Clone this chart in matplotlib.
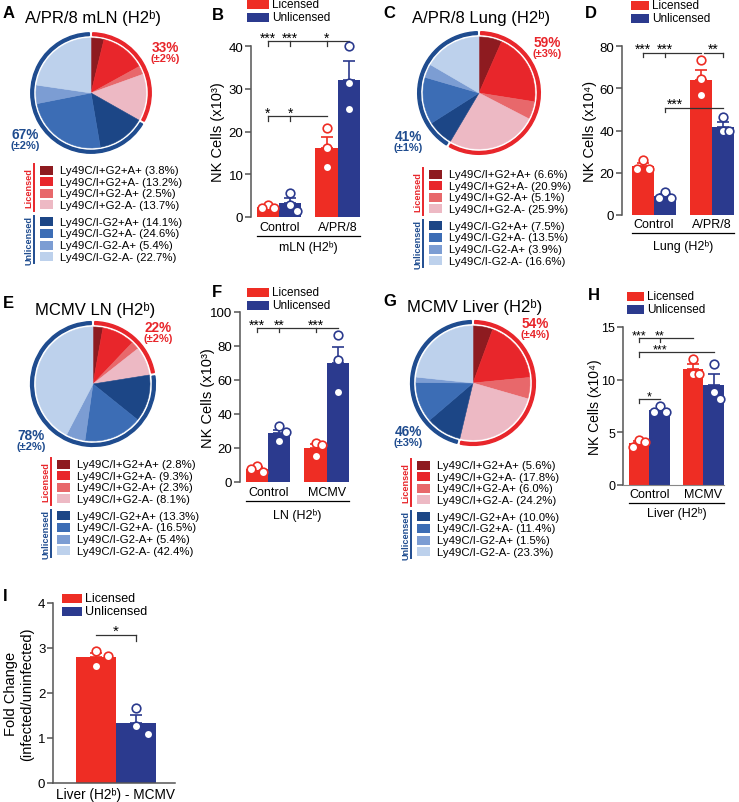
import numpy as np
import matplotlib
matplotlib.use("Agg")
import matplotlib.pyplot as plt
from matplotlib.patches import Wedge, Rectangle

plt.rcParams['font.family'] = ['Liberation Sans', 'DejaVu Sans']

W, H = 739, 803

# ---- pie data: % of NK cells in each subset ----
lic_names = ["Ly49C/I+G2+A+", "Ly49C/I+G2+A-", "Ly49C/I+G2-A+", "Ly49C/I+G2-A-"]
unlic_names = ["Ly49C/I-G2+A+", "Ly49C/I-G2+A-", "Ly49C/I-G2-A+", "Ly49C/I-G2-A-"]

mln_lic = [3.8, 13.2, 2.5, 13.7]
mln_unlic = [14.1, 24.6, 5.4, 22.7]
lung_lic = [6.6, 20.9, 5.1, 25.9]
lung_unlic = [7.5, 13.5, 3.9, 16.6]
ln_lic = [2.8, 9.3, 2.3, 8.1]
ln_unlic = [13.3, 16.5, 5.4, 42.4]
liver_lic = [5.6, 17.8, 6.0, 24.2]
liver_unlic = [10.0, 11.4, 1.5, 23.3]

pie_titles = ["A/PR/8 mLN (H2ᵇ)", "A/PR/8 Lung (H2ᵇ)", "MCMV LN (H2ᵇ)", "MCMV Liver (H2ᵇ)"]
pie_lic_tot = [("33%", "(±2%)"), ("59%", "(±3%)"), ("22%", "(±2%)"), ("54%", "(±4%)")]
pie_unlic_tot = [("67%", "(±2%)"), ("41%", "(±1%)"), ("78%", "(±2%)"), ("46%", "(±3%)")]

# ---- bar data: NK cell numbers ----
flu_groups = ["Control", "A/PR/8"]
mcmv_groups = ["Control", "MCMV"]

mln_lic_pts = [[2.8, 2.0, 2.1], [20.8, 16.1, 11.6]]
mln_unlic_pts = [[5.7, 2.7, 1.3], [40.1, 31.4, 25.2]]
mln_lic_mean, mln_lic_sem = [2.3, 16.1], [0.4, 2.7]
mln_unlic_mean, mln_unlic_sem = [3.2, 32.1], [1.3, 4.3]

lung_lic_pts = [[26.0, 21.8, 21.8], [73.2, 64.2, 56.8]]
lung_unlic_pts = [[11.0, 8.2, 8.2], [46.5, 40.0, 40.0]]
lung_lic_mean, lung_lic_sem = [23.2, 64.0], [1.5, 4.5]
lung_unlic_mean, lung_unlic_sem = [9.0, 41.5], [0.8, 2.3]

ln_lic_pts = [[9.4, 6.1, 7.5], [22.8, 21.6, 15.3]]
ln_unlic_pts = [[33.0, 29.5, 24.2], [86.2, 72.0, 52.8]]
ln_lic_mean, ln_lic_sem = [7.7, 19.9], [1.0, 2.2]
ln_unlic_mean, ln_unlic_sem = [28.9, 70.0], [1.6, 9.5]

liver_lic_pts = [[4.25, 4.1, 3.6], [12.0, 10.5, 10.5]]
liver_unlic_pts = [[7.5, 6.95, 6.95], [11.5, 8.8, 8.2]]
liver_lic_mean, liver_lic_sem = [3.95, 11.0], [0.2, 0.5]
liver_unlic_mean, liver_unlic_sem = [7.1, 9.5], [0.15, 1.0]

fold_lic_pts = [2.94, 2.82, 2.61]
fold_unlic_pts = [1.67, 1.26, 1.1]
fold_mean, fold_sem = [2.79, 1.34], [0.1, 0.17]

LIC_COLS = ['#8E1B20', '#E8262B', '#E8686B', '#EDB9C4']
UNLIC_COLS = ['#1C4686', '#3C6DB5', '#7C9DD3', '#BDD1EC']
RING_RED, RING_BLUE = '#E8262B', '#1F4C8F'
BAR_RED, BAR_BLUE = '#EE2D24', '#2B3A8E'
SPINE = '#555555'

fig = plt.figure(figsize=(W / 100, H / 100), dpi=100)
ov = fig.add_axes([0, 0, 1, 1])
ov.set_xlim(0, W)
ov.set_ylim(H, 0)
ov.axis('off')


def px_axes(left, top, right, bottom):
    return fig.add_axes([left / W, 1 - bottom / H, (right - left) / W, (bottom - top) / H])


def draw_pie(cx, cy, R, lic, unlic, title, title_y, lic_tot, lic_xy, unlic_tot, unlic_xy, leg_x, leg_y):
    s = 1.2 * R
    ax = px_axes(cx - s, cy - s, cx + s, cy + s)
    vals = lic + unlic
    wedges, _ = ax.pie(vals, colors=LIC_COLS + UNLIC_COLS, startangle=90, counterclock=False)
    for w in wedges:
        w.set_edgecolor(w.get_facecolor())
        w.set_linewidth(0.4)
    split = 90 - 360 * sum(lic) / sum(vals)
    gap = 1.6
    ax.add_patch(Wedge((0, 0), 1.095, split + gap, 90 - gap, width=0.05, color=RING_RED))
    ax.add_patch(Wedge((0, 0), 1.095, 90 + gap - 360, split - gap, width=0.05, color=RING_BLUE))
    ax.set_xlim(-1.2, 1.2)
    ax.set_ylim(-1.2, 1.2)
    ax.axis('off')

    ov.text(cx + 2, title_y, title, ha='center', va='center', fontsize=12)
    ov.text(lic_xy[0], lic_xy[1], lic_tot[0], ha='center', va='center', fontsize=9.8,
            fontweight='bold', color=RING_RED)
    ov.text(lic_xy[0], lic_xy[1] + 11, lic_tot[1], ha='center', va='center', fontsize=8,
            fontweight='bold', color=RING_RED)
    ov.text(unlic_xy[0], unlic_xy[1], unlic_tot[0], ha='center', va='center', fontsize=9.8,
            fontweight='bold', color=RING_BLUE)
    ov.text(unlic_xy[0], unlic_xy[1] + 11, unlic_tot[1], ha='center', va='center', fontsize=8,
            fontweight='bold', color=RING_BLUE)

    # legend with side labels
    step, gap_px = 11.6, 17
    for block, (names, v, cols, lab, lc) in enumerate(
            [(lic_names, lic, LIC_COLS, 'Licensed', RING_RED),
             (unlic_names, unlic, UNLIC_COLS, 'Unlicensed', RING_BLUE)]):
        y0 = leg_y + block * (3 * step + gap_px)
        for i, (n, p, c) in enumerate(zip(names, v, cols)):
            y = y0 + i * step
            ov.add_patch(Rectangle((leg_x, y - 4.5), 13, 9, color=c, lw=0))
            ov.text(leg_x + 20, y, f"{n} ({p:.1f}%)", ha='left', va='center', fontsize=8.2)
        ov.plot([leg_x - 6, leg_x - 6], [y0 - 6, y0 + 3 * step + 6], color=lc, lw=1.4)
        ov.text(leg_x - 11, y0 + 1.5 * step, lab, rotation=90, ha='center', va='center',
                fontsize=6.6, fontweight='bold', color=lc)


def swarm(vals, thr, dx):
    placed = []
    offs = []
    for v in vals:
        for o in [0, dx, -dx, 2 * dx, -2 * dx]:
            if all(abs(v - pv) > thr or o != po for pv, po in placed):
                break
        placed.append((v, o))
        offs.append(o)
    return offs


def draw_bars(ax, series, ymax, width=0.38):
    for off, means, sems, pts, col in series:
        xs = np.arange(len(means)) + off
        ax.bar(xs, means, width=width, color=col, zorder=2, linewidth=0)
        ax.errorbar(xs, means, yerr=[np.zeros(len(means)), sems], fmt='none', ecolor=col,
                    elinewidth=1.2, capsize=4.5, capthick=1.2, zorder=2)
        for x, p in zip(xs, pts):
            offs = swarm(p, 0.055 * ymax, 0.11 * width / 0.38)
            ax.plot(x + np.array(offs), p, 'o', ms=6.2, mfc='white', mec=col, mew=1.2,
                    zorder=3, clip_on=False)


def bracket(ax, y, x0, x1, ticks, stars, tl, fs=10):
    ax.plot([x0, x1], [y, y], color='#333333', lw=0.9, clip_on=False)
    for t in ticks:
        ax.plot([t, t], [y, y - tl], color='#333333', lw=0.9, clip_on=False)
    for x, s in stars:
        ax.annotate(s, (x, y), xytext=(0, -2.5), textcoords='offset points', ha='center',
                    va='bottom', fontsize=fs, annotation_clip=False)


def style_axes(ax, ymax, ticks, h_px, fs=9.5):
    ax.set_ylim(0, ymax)
    ax.set_yticks(ticks)
    for sp in ['top', 'right', 'bottom']:
        ax.spines[sp].set_visible(False)
    ax.spines['left'].set_color(SPINE)
    ax.spines['left'].set_linewidth(1.1)
    ax.tick_params(axis='y', colors=SPINE, labelcolor='black', labelsize=fs, length=4, width=1.1, pad=1.5)
    ax.tick_params(axis='x', length=0, labelbottom=False)
    ax.patch.set_visible(False)


def group_labels(ax, groups, xlabel, h_px, lab_px, line_px, xl_px, x0=-0.38, x1=1.38, fs=9):
    tr = ax.get_xaxis_transform()
    for g, name in enumerate(groups):
        ax.text(g, -lab_px / h_px, name, transform=tr, ha='center', va='center', fontsize=fs)
    ax.plot([x0, x1], [-line_px / h_px] * 2, transform=tr, color='black', lw=0.9, clip_on=False)
    ax.text((x0 + x1) / 2, -xl_px / h_px, xlabel, transform=tr, ha='center', va='center', fontsize=fs)


def bar_legend(x, y, sw, fs=8.5):
    for i, (lab, col) in enumerate([('Licensed', BAR_RED), ('Unlicensed', BAR_BLUE)]):
        yy = y + i * 13
        ov.add_patch(Rectangle((x, yy - 4.5), sw, 9, color=col, lw=0))
        ov.text(x + sw + 3, yy, lab, ha='left', va='center', fontsize=fs)


# ---------- pies ----------
draw_pie(91, 94, 55, mln_lic, mln_unlic, pie_titles[0], 18, pie_lic_tot[0], (165, 48),
         pie_unlic_tot[0], (25, 135), 40, 171)
draw_pie(479, 94, 56, lung_lic, lung_unlic, pie_titles[1], 18, pie_lic_tot[1], (547, 43),
         pie_unlic_tot[1], (408, 137), 429, 175)
draw_pie(93, 385, 57, ln_lic, ln_unlic, pie_titles[2], 310, pie_lic_tot[2], (158, 328),
         pie_unlic_tot[2], (31, 436), 57, 465)
draw_pie(473, 384, 57, liver_lic, liver_unlic, pie_titles[3], 307, pie_lic_tot[3], (535, 324),
         pie_unlic_tot[3], (408, 432), 417, 466)

# ---------- B ----------
hB = 218 - 47
axB = px_axes(251, 47, 360, 218)
draw_bars(axB, [(-0.19, mln_lic_mean, mln_lic_sem, mln_lic_pts, BAR_RED),
                (0.19, mln_unlic_mean, mln_unlic_sem, mln_unlic_pts, BAR_BLUE)], 40)
style_axes(axB, 40, [0, 10, 20, 30, 40], hB)
axB.set_xlim(-0.48, 1.38)
axB.set_ylabel("NK Cells (x10³)", fontsize=10.5, va='center')
axB.yaxis.set_label_coords((218 - 251) / 109, 0.5)
group_labels(axB, flu_groups, "mLN (H2ᵇ)", hB, 10, 19, 30)
bracket(axB, 41.2, -0.19, 1.19, [-0.19, 0.19, 0.81], [(-0.19, '***'), (0.19, '***'), (0.81, '*')], 1.1)
bracket(axB, 23.6, -0.19, 0.81, [-0.19, 0.19], [(-0.19, '*'), (0.19, '*')], 1.1)
bar_legend(247, 5, 22)

# ---------- D ----------
hD = 216 - 47
axD = px_axes(622, 47, 734, 216)
draw_bars(axD, [(-0.19, lung_lic_mean, lung_lic_sem, lung_lic_pts, BAR_RED),
                (0.19, lung_unlic_mean, lung_unlic_sem, lung_unlic_pts, BAR_BLUE)], 80)
style_axes(axD, 80, [0, 20, 40, 60, 80], hD)
axD.set_xlim(-0.55, 1.38)
axD.set_ylabel("NK Cells (x10⁴)", fontsize=10.5, va='center')
axD.yaxis.set_label_coords((590 - 622) / 112, 0.5)
group_labels(axD, flu_groups, "Lung (H2ᵇ)", hD, 9, 18, 31)
bracket(axD, 76.8, -0.19, 0.81, [-0.19, 0.19], [(-0.19, '***'), (0.19, '***')], 2.2)
bracket(axD, 76.8, 0.86, 1.19, [1.19], [(1.02, '**')], 2.2)
bracket(axD, 50.8, 0.19, 1.19, [0.19], [(0.37, '***')], 2.2)
bar_legend(631, 6, 18)

# ---------- F ----------
hF = 483 - 313
axF = px_axes(240, 313, 349, 483)
draw_bars(axF, [(-0.19, ln_lic_mean, ln_lic_sem, ln_lic_pts, BAR_RED),
                (0.19, ln_unlic_mean, ln_unlic_sem, ln_unlic_pts, BAR_BLUE)], 100)
style_axes(axF, 100, [0, 20, 40, 60, 80, 100], hF)
axF.set_xlim(-0.48, 1.38)
axF.set_ylabel("NK Cells (x10³)", fontsize=10.5, va='center')
axF.yaxis.set_label_coords((208 - 240) / 109, 0.5)
group_labels(axF, mcmv_groups, "LN (H2ᵇ)", hF, 10, 19, 33)
bracket(axF, 90.6, -0.19, 1.19, [-0.19, 0.19, 0.81], [(-0.19, '***'), (0.19, '**'), (0.81, '***')], 2.5)
bar_legend(247, 293, 22)

# ---------- H ----------
hH = 486 - 328
axH = px_axes(623, 328, 724, 486)
draw_bars(axH, [(-0.19, liver_lic_mean, liver_lic_sem, liver_lic_pts, BAR_RED),
                (0.19, liver_unlic_mean, liver_unlic_sem, liver_unlic_pts, BAR_BLUE)], 15)
style_axes(axH, 15, [0, 5, 10, 15], hH, fs=9)
axH.spines['bottom'].set_visible(True)
axH.spines['bottom'].set_color('#888888')
axH.set_xlim(-0.49, 1.38)
axH.set_ylabel("NK Cells (x10⁴)", fontsize=10, va='center')
axH.yaxis.set_label_coords((595 - 623) / 101, 0.5)
group_labels(axH, mcmv_groups, "Liver (H2ᵇ)", hH, 9, 18, 28, fs=9)
bracket(axH, 14.0, -0.19, 0.81, [-0.19, 0.19], [(-0.19, '***'), (0.19, '**')], 0.45, fs=9)
bracket(axH, 12.6, -0.19, 1.19, [-0.19], [(0.19, '***')], 0.45, fs=9)
bracket(axH, 8.2, -0.19, 0.19, [-0.19], [(0.0, '*')], 0.45, fs=9)
bar_legend(627, 297, 17)

# ---------- I ----------
hI = 784 - 604
axI = px_axes(53, 604, 175, 784)
draw_bars(axI, [(0.0, [fold_mean[0]], [fold_sem[0]], [fold_lic_pts], BAR_RED),
                (1.0, [fold_mean[1]], [fold_sem[1]], [fold_unlic_pts], BAR_BLUE)], 4, width=1.0)
style_axes(axI, 4, [0, 1, 2, 3, 4], hI)
axI.spines['bottom'].set_visible(True)
axI.spines['bottom'].set_color(SPINE)
axI.spines['bottom'].set_linewidth(1.1)
axI.set_xlim(-1.075, 1.975)
axI.set_ylabel("Fold Change\n(infected/uninfected)", fontsize=10.5, linespacing=1.2, va='center')
axI.yaxis.set_label_coords((19 - 53) / 122, 0.5)
axI.text(0.5, -11 / hI, "Liver (H2ᵇ) - MCMV", transform=axI.get_xaxis_transform(),
         ha='center', va='center', fontsize=9.8)
bracket(axI, 3.3, 0.0, 1.0, [1.0], [(0.5, '*')], 0.15, fs=11)
bar_legend(62, 599, 20, fs=9)

# ---------- panel letters ----------
for lab, x, y in [('A', 3, 14), ('B', 212, 15), ('C', 383, 14), ('D', 585, 14), ('E', 3, 304),
                  ('F', 212, 293), ('G', 383, 302), ('H', 588, 296), ('I', 3, 597)]:
    ov.text(x, y, lab, ha='left', va='center', fontsize=12, fontweight='bold')

fig.savefig("out.png", dpi=100)
